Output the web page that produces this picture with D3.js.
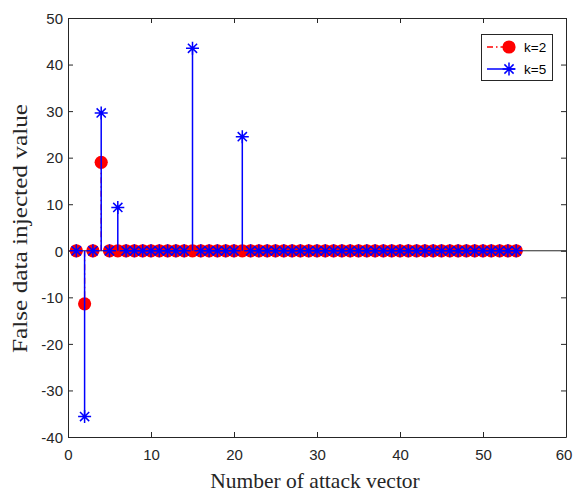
<!DOCTYPE html>
<html>
<head>
<meta charset="utf-8">
<script src="https://cdn.jsdelivr.net/npm/d3@7"></script>
<style>
  html, body { margin: 0; padding: 0; background: #fff; }
  svg { display: block; }
</style>
</head>
<body>
<svg id="chart" width="573" height="493"></svg>
<script>
// Attack vector indices 1..54
const attackIndex = [1,2,3,4,5,6,7,8,9,10,11,12,13,14,15,16,17,18,19,20,21,22,23,24,25,26,27,
  28,29,30,31,32,33,34,35,36,37,38,39,40,41,42,43,44,45,46,47,48,49,50,51,52,53,54];

// Non-zero injected values per series; every other index is 0
const k2Nonzero = [[2, -11.4], [4, 19.0]];
const k5Nonzero = [[2, -35.6], [4, 29.6], [6, 9.3], [15, 43.5], [21, 24.5]];

const xTicks = [0, 10, 20, 30, 40, 50, 60];
const yTicks = [-40, -30, -20, -10, 0, 10, 20, 30, 40, 50];

const seriesNames = ["k=2", "k=5"];

function buildSeries(nonzero) {
  const m = new Map(nonzero);
  return attackIndex.map(i => ({ x: i, y: m.has(i) ? m.get(i) : 0 }));
}
const k2 = buildSeries(k2Nonzero);
const k5 = buildSeries(k5Nonzero);

const svg = d3.select("#chart");
const plot = { left: 68, right: 566, top: 18, bottom: 437 };

const x = d3.scaleLinear().domain([0, 60]).range([plot.left, plot.right]);
const y = d3.scaleLinear().domain([-40, 50]).range([plot.bottom, plot.top]);

const axisColor = "#262626";
const tickLen = 5;
const plainNum = d => String(d);   // hyphen-minus, as in the printed labels

// Axes with inward ticks (box on all four sides)
const gx = svg.append("g").attr("transform", `translate(0,${plot.bottom})`)
  .call(d3.axisBottom(x).tickValues(xTicks).tickFormat(plainNum)
    .tickSizeInner(-tickLen).tickSizeOuter(0).tickPadding(12));
const gxTop = svg.append("g").attr("transform", `translate(0,${plot.top})`)
  .call(d3.axisTop(x).tickValues(xTicks).tickSizeInner(-tickLen).tickSizeOuter(0).tickFormat(""));
const gy = svg.append("g").attr("transform", `translate(${plot.left},0)`)
  .call(d3.axisLeft(y).tickValues(yTicks).tickFormat(plainNum)
    .tickSizeInner(-tickLen).tickSizeOuter(0).tickPadding(5));
const gyRight = svg.append("g").attr("transform", `translate(${plot.right},0)`)
  .call(d3.axisRight(y).tickValues(yTicks).tickSizeInner(-tickLen).tickSizeOuter(0).tickFormat(""));

[gx, gxTop, gy, gyRight].forEach(g => {
  g.select(".domain").attr("stroke", axisColor).attr("stroke-width", 1);
  g.selectAll(".tick line").attr("stroke", axisColor).attr("stroke-width", 1);
  g.selectAll(".tick text")
    .attr("fill", axisColor)
    .style("font-family", "'Liberation Sans', Arial, sans-serif")
    .style("font-size", "15px");
});
gy.selectAll(".tick text").attr("dy", "0.35em");
// keep the last x label inside the page edge
gx.selectAll(".tick text").filter(d => d === 60).attr("dx", "-2.5");

// Stem baseline at zero
svg.append("line")
  .attr("x1", plot.left).attr("x2", plot.right)
  .attr("y1", y(0)).attr("y2", y(0))
  .attr("stroke", axisColor).attr("stroke-width", 1);

// k=2: red dash-dot stems with filled circles
const red = "#ff0000";
const blue = "#0000ff";
const gk2 = svg.append("g");
gk2.selectAll("line").data(k2.filter(d => d.y !== 0)).join("line")
  .attr("x1", d => x(d.x)).attr("x2", d => x(d.x))
  .attr("y1", y(0)).attr("y2", d => y(d.y))
  .attr("stroke", red).attr("stroke-width", 1.3)
  .attr("stroke-dasharray", "6,3,1.5,3");
gk2.selectAll("circle").data(k2).join("circle")
  .attr("cx", d => x(d.x)).attr("cy", d => y(d.y))
  .attr("r", 6.6).attr("fill", red);

// k=5: blue solid stems with asterisk markers
const star = (cx, cy, r) => {
  const a = r * Math.SQRT1_2;
  return `M${cx - r},${cy}L${cx + r},${cy}M${cx},${cy - r}L${cx},${cy + r}` +
    `M${cx - a},${cy - a}L${cx + a},${cy + a}M${cx - a},${cy + a}L${cx + a},${cy - a}`;
};
const gk5 = svg.append("g");
gk5.selectAll("line").data(k5.filter(d => d.y !== 0)).join("line")
  .attr("x1", d => x(d.x)).attr("x2", d => x(d.x))
  .attr("y1", y(0)).attr("y2", d => y(d.y))
  .attr("stroke", blue).attr("stroke-width", 1.5);
gk5.selectAll("path").data(k5).join("path")
  .attr("d", d => star(x(d.x), y(d.y), 6.5))
  .attr("stroke", blue).attr("stroke-width", 1.5).attr("fill", "none");

// Axis labels
svg.append("text")
  .attr("x", (plot.left + plot.right) / 2 - 2).attr("y", 488)
  .attr("text-anchor", "middle")
  .attr("fill", axisColor)
  .style("font-family", "'Liberation Serif', 'Times New Roman', serif")
  .style("font-size", "21.5px")
  .text("Number of attack vector");

svg.append("text")
  .attr("transform", `translate(27,${(plot.top + plot.bottom) / 2 + 1}) rotate(-90)`)
  .attr("text-anchor", "middle")
  .attr("fill", axisColor)
  .attr("textLength", 249)
  .attr("lengthAdjust", "spacingAndGlyphs")
  .style("font-family", "'Liberation Serif', 'Times New Roman', serif")
  .style("font-size", "20px")
  .text("False data injected value");

// Legend
const legend = svg.append("g");
legend.append("rect")
  .attr("x", 481.5).attr("y", 34.5).attr("width", 71).attr("height", 46)
  .attr("fill", "#fff").attr("stroke", axisColor).attr("stroke-width", 1);
const rows = [47, 69];
// k=2 entry
legend.append("line")
  .attr("x1", 487).attr("x2", 515).attr("y1", rows[0]).attr("y2", rows[0])
  .attr("stroke", red).attr("stroke-width", 1.3).attr("stroke-dasharray", "6,3,1.5,3");
legend.append("circle").attr("cx", 509).attr("cy", rows[0]).attr("r", 6.6).attr("fill", red);
// k=5 entry
legend.append("line")
  .attr("x1", 487).attr("x2", 515).attr("y1", rows[1]).attr("y2", rows[1])
  .attr("stroke", blue).attr("stroke-width", 1.5);
legend.append("path").attr("d", star(509, rows[1], 6.5))
  .attr("stroke", blue).attr("stroke-width", 1.5).attr("fill", "none");
legend.selectAll("text.lbl").data(seriesNames).join("text")
  .attr("class", "lbl")
  .attr("x", 524).attr("y", (d, i) => rows[i])
  .attr("dy", "0.35em")
  .attr("fill", "#000")
  .style("font-family", "'Liberation Sans', Arial, sans-serif")
  .style("font-size", "13.5px")
  .text(d => d);
</script>
</body>
</html>
